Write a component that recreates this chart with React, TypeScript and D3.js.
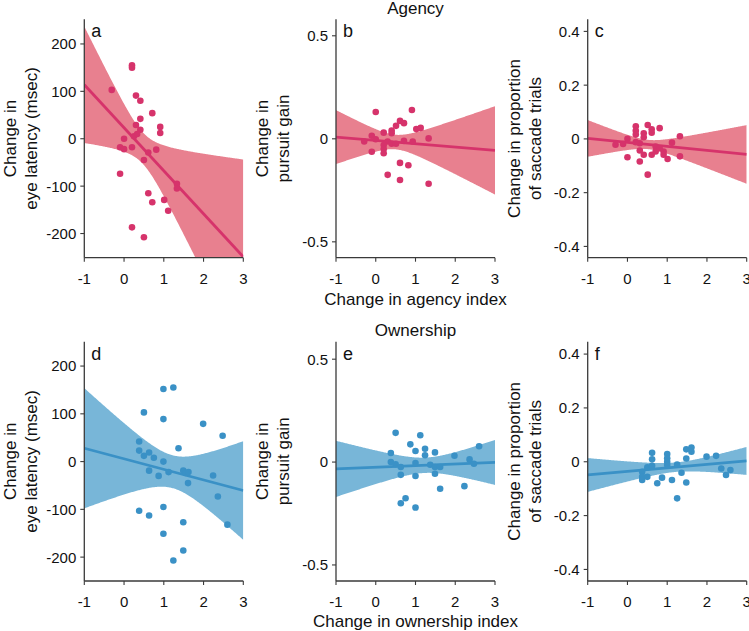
import React from "react";
import * as d3 from "d3";

// ---------- DATA ----------
const xTicks = [-1, 0, 1, 2, 3];
const latencyTicks = [-200, -100, 0, 100, 200];
const gainTicks = [-0.5, 0, 0.5];
const saccadeTicks = [-0.4, -0.2, 0, 0.2, 0.4];

// a: agency vs eye latency
const aX = [0.2, 0.2, -0.31, 0.3, 0.41, 0.71, 0.41, 0.91, 0.91, 0.3, 0.41, 0.25, 0.33, 0, -0.1, 0, 0.2, 0.61, 0.81, 0.5, -0.1, 1.33, 1.33, 0.61, 0.71, 1.01, 1.11, 0.2, 0.5];
const aY = [155, 150, 103, 91, 80, 54, 42, 25, 12, 29, 19, 5, 10, 0, -18, -22, -18, -29, -23, -45, -74, -95, -105, -115, -134, -129, -152, -187, -208];

// b: agency vs pursuit gain
const bX = [0, 0.91, 0.61, 0.71, 0.51, 0.4, 0.4, 0.2, 1.02, 1.13, 1.33, -0.1, -0.29, 0, 0.3, 0.2, 0.2, 0.2, 0.4, 0.51, 0.71, 0.93, -0.1, 0.61, 0.82, 0.3, 0.61, 1.33];
const bY = [0.13, 0.14, 0.087, 0.076, 0.063, 0.04, 0.027, 0.03, 0.047, 0.053, 0.002, 0.015, -0.013, -0.002, -0.013, -0.03, -0.05, -0.07, -0.024, -0.024, -0.01, -0.013, -0.063, -0.117, -0.128, -0.175, -0.2, -0.218];

// c: agency vs saccade proportion
const cX = [0.51, 0.21, 0.21, 0.21, 0.41, 0.41, 0.61, 0.61, 0.81, 1.32, 1.12, 0, -0.11, -0.3, 0.31, 0.31, 0.41, 0.61, 0.71, 0.71, 0.91, 0.91, 1.01, 1.32, 0, 0.31, 0.51, 0.21, 0.81];
const cY = [0.052, 0.047, 0.03, 0.016, 0.021, 0.006, 0.036, 0.023, 0.04, 0.01, -0.014, 0, -0.019, -0.022, -0.016, -0.043, -0.059, -0.059, -0.028, -0.047, -0.047, -0.059, -0.075, -0.065, -0.068, -0.084, -0.133, -0.012, -0.035];

// d: ownership vs eye latency
const dX = [0.99, 1.24, 0.5, 0.99, 1.99, 2.48, 1.37, 0.38, 0.38, 0.63, 0.5, 0.75, 0.99, 0.63, 0.87, 1.12, 1.49, 1.55, 1.62, 1.61, 2.24, 2.36, 0.38, 0.63, 0.99, 1.49, 2.6, 0.99, 1.49, 1.24];
const dY = [152, 155, 103, 89, 79, 54, 28, 42, 23, 19, 12, 8, 0, -19, -30, -22, -19, -24, -22, -45, -29, -73, -103, -113, -95, -127, -132, -151, -186, -207];

// e: ownership vs pursuit gain
const eX = [0.5, 1.12, 0.87, 1.24, 1.0, 1.49, 0.38, 1.24, 1.98, 2.6, 2.36, 2.47, 0.38, 0.5, 0.63, 1.0, 1.37, 1.49, 1.62, 1.49, 0.63, 1.0, 1.62, 2.23, 0.75, 0.63, 1.0];
const eY = [0.142, 0.13, 0.086, 0.065, 0.054, 0.047, 0.044, 0.033, 0.031, 0.077, 0.013, -0.008, 0.0, -0.011, -0.024, -0.005, -0.013, -0.024, -0.024, -0.057, -0.062, -0.068, -0.13, -0.117, -0.176, -0.2, -0.221];

// f: ownership vs saccade proportion
const fX = [0.62, 0.62, 1.0, 1.0, 1.0, 1.0, 1.48, 1.61, 1.61, 1.48, 1.99, 2.23, 1.25, 2.36, 2.59, 2.48, 1.36, 0.5, 0.37, 0.37, 0.37, 0.5, 0.87, 1.12, 0.75, 1.48, 1.25, 0.62];
const fY = [0.033, 0.009, 0.029, 0.013, 0.0, -0.012, 0.046, 0.053, 0.037, 0.012, 0.019, 0.022, -0.01, -0.025, -0.031, -0.049, -0.041, -0.021, -0.037, -0.056, -0.068, -0.056, -0.059, -0.068, -0.08, -0.077, -0.136, -0.015];

// ---------- STYLE / LAYOUT ----------
const W = 749;
const H = 631;
const FONT = "'Liberation Sans', Arial, Helvetica, sans-serif";
const PINK = { dot: "#d6336b", band: "#e8808f" };
const BLUE = { dot: "#3a91c6", band: "#78b6d8" };
const colLeft = [84.3, 336, 587.7];
const colW = 159;
const rowTop = [19.3, 341.7];
const rowBottom = [257.7, 581];

function tQuantile975(df: number) {
  const z = 1.959964;
  return (
    z +
    (z ** 3 + z) / (4 * df) +
    (5 * z ** 5 + 16 * z ** 3 + 3 * z) / (96 * df * df) +
    (3 * z ** 7 + 19 * z ** 5 + 17 * z ** 3 - 15 * z) / (384 * df ** 3)
  );
}

function fit(xs: number[], ys: number[]) {
  const n = xs.length;
  const mx = d3.mean(xs)!;
  const my = d3.mean(ys)!;
  let sxx = 0, sxy = 0;
  for (let i = 0; i < n; i++) {
    sxx += (xs[i] - mx) ** 2;
    sxy += (xs[i] - mx) * (ys[i] - my);
  }
  const slope = sxy / sxx;
  const icpt = my - slope * mx;
  let sse = 0;
  for (let i = 0; i < n; i++) sse += (ys[i] - (icpt + slope * xs[i])) ** 2;
  const s = Math.sqrt(sse / (n - 2));
  const t = tQuantile975(n - 2);
  return { slope, icpt, mx, sxx, s, t, n };
}

type PanelProps = {
  id: string;
  letter: string;
  xs: number[];
  ys: number[];
  yDomain: [number, number];
  yTicks: number[];
  yLabel: string[];
  colors: { dot: string; band: string };
  col: number;
  row: number;
};

function fmt(v: number) {
  return String(v);
}

function Panel(p: PanelProps) {
  const left = colLeft[p.col];
  const right = left + colW;
  const top = rowTop[p.row];
  const bottom = rowBottom[p.row];
  const x = d3.scaleLinear().domain([-1, 3]).range([left, right]);
  const y = d3.scaleLinear().domain(p.yDomain).range([bottom, top]);
  const f = fit(p.xs, p.ys);
  const grid = d3.range(0, 201).map((i) => -1 + (4 * i) / 200);
  const half = (xv: number) =>
    f.t * f.s * Math.sqrt(1 / f.n + (xv - f.mx) ** 2 / f.sxx);
  const area = d3
    .area<number>()
    .x((d) => x(d))
    .y0((d) => y(f.icpt + f.slope * d - half(d)))
    .y1((d) => y(f.icpt + f.slope * d + half(d)));
  const line = d3
    .line<number>()
    .x((d) => x(d))
    .y((d) => y(f.icpt + f.slope * d));
  const midY = (top + bottom) / 2;
  const axisColor = "#3a3a3a";
  return (
    <g>
      <defs>
        <clipPath id={`clip-${p.id}`}>
          <rect x={left} y={top} width={colW} height={bottom - top} />
        </clipPath>
      </defs>
      <g clipPath={`url(#clip-${p.id})`}>
        <path d={area(grid)!} fill={p.colors.band} stroke="none" />
        <path d={line([-1, 3])!} fill="none" stroke={p.colors.dot} strokeWidth={2.8} />
      </g>
      {p.xs.map((xv, i) => (
        <circle key={i} cx={x(xv)} cy={y(p.ys[i])} r={3.3} fill={p.colors.dot} />
      ))}
      <line x1={left} y1={top} x2={left} y2={bottom} stroke={axisColor} strokeWidth={1.3} />
      <line x1={left} y1={bottom} x2={right} y2={bottom} stroke={axisColor} strokeWidth={1.3} />
      {p.yTicks.map((t) => (
        <g key={"y" + t}>
          <line x1={left - 4} x2={left} y1={y(t)} y2={y(t)} stroke={axisColor} strokeWidth={1.1} />
          <text x={left - 8} y={y(t)} dy="0.36em" textAnchor="end" fontSize={15} fontFamily={FONT} fill="#111">
            {fmt(t)}
          </text>
        </g>
      ))}
      {xTicks.map((t) => (
        <g key={"x" + t}>
          <line x1={x(t)} x2={x(t)} y1={bottom} y2={bottom + 4} stroke={axisColor} strokeWidth={1.1} />
          <text x={x(t)} y={bottom + 26} textAnchor="middle" fontSize={15} fontFamily={FONT} fill="#111">
            {fmt(t)}
          </text>
        </g>
      ))}
      <text x={left + 7} y={top + 18} fontSize={18} fontFamily={FONT} fill="#111">
        {p.letter}
      </text>
      <text
        transform={`translate(${left - 68},${midY}) rotate(-90)`}
        textAnchor="middle"
        fontSize={17}
        fontFamily={FONT}
        fill="#111"
      >
        {p.yLabel[0]}
      </text>
      <text
        transform={`translate(${left - 47},${midY}) rotate(-90)`}
        textAnchor="middle"
        fontSize={17}
        fontFamily={FONT}
        fill="#111"
      >
        {p.yLabel[1]}
      </text>
    </g>
  );
}

export default function App() {
  const centerX = colLeft[1] + colW / 2;
  return (
    <svg
      width={W}
      height={H}
      viewBox={`0 0 ${W} ${H}`}
      style={{ position: "absolute", left: 0, top: 0, background: "#fff" }}
    >
      <rect width={W} height={H} fill="#fff" />
      <text x={centerX} y={14} textAnchor="middle" fontSize={17} fontFamily={FONT} fill="#111">
        Agency
      </text>
      <text x={centerX} y={336} textAnchor="middle" fontSize={17} fontFamily={FONT} fill="#111">
        Ownership
      </text>
      <Panel id="a" letter="a" xs={aX} ys={aY} yDomain={[-251, 252]} yTicks={latencyTicks} yLabel={["Change in", "eye latency (msec)"]} colors={PINK} col={0} row={0} />
      <Panel id="b" letter="b" xs={bX} ys={bY} yDomain={[-0.577, 0.58]} yTicks={gainTicks} yLabel={["Change in", "pursuit gain"]} colors={PINK} col={1} row={0} />
      <Panel id="c" letter="c" xs={cX} ys={cY} yDomain={[-0.442, 0.445]} yTicks={saccadeTicks} yLabel={["Change in proportion", "of saccade trials"]} colors={PINK} col={2} row={0} />
      <Panel id="d" letter="d" xs={dX} ys={dY} yDomain={[-250, 251]} yTicks={latencyTicks} yLabel={["Change in", "eye latency (msec)"]} colors={BLUE} col={0} row={1} />
      <Panel id="e" letter="e" xs={eX} ys={eY} yDomain={[-0.578, 0.585]} yTicks={gainTicks} yLabel={["Change in", "pursuit gain"]} colors={BLUE} col={1} row={1} />
      <Panel id="f" letter="f" xs={fX} ys={fY} yDomain={[-0.443, 0.446]} yTicks={saccadeTicks} yLabel={["Change in proportion", "of saccade trials"]} colors={BLUE} col={2} row={1} />
      <text x={centerX} y={305} textAnchor="middle" fontSize={17} fontFamily={FONT} fill="#111">
        Change in agency index
      </text>
      <text x={centerX} y={627} textAnchor="middle" fontSize={17} fontFamily={FONT} fill="#111">
        Change in ownership index
      </text>
    </svg>
  );
}
